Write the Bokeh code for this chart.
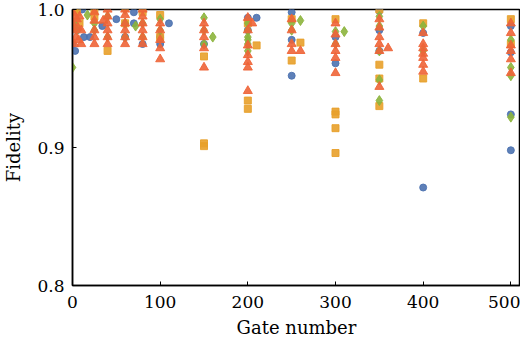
from bokeh.plotting import figure
from bokeh.models import FixedTicker, Range1d, NumeralTickFormatter
from bokeh.embed import file_html
from bokeh.resources import INLINE

# Blue circles
blue_x = [0, 3, 5, 11, 13, 20, 34, 50, 60, 70, 70, 80, 100, 100, 110, 150, 200, 200, 210,
          250, 250, 250, 300, 300, 350, 350, 350, 400, 400, 500, 500, 500, 500]
blue_y = [0.975, 0.970, 0.985, 1.000, 0.980, 0.980, 0.988, 0.993, 0.980, 0.998, 0.990, 0.975,
          0.980, 0.975, 0.990, 0.975, 0.994, 0.985, 0.994, 0.998, 0.978, 0.952, 0.961, 0.980,
          0.999, 0.985, 0.970, 0.983, 0.871, 0.988, 0.969, 0.924, 0.898]

# Orange squares
orange_x = [2, 5, 8, 25, 25, 40, 60, 80, 100, 100, 150, 150, 150, 200, 200, 200, 210,
            250, 250, 260, 300, 300, 300, 300, 300, 350, 350, 350, 350, 400, 400, 500, 500]
orange_y = [1.000, 0.998, 0.990, 1.000, 0.995, 0.970, 0.990, 0.998, 0.996, 0.980, 0.966, 0.903,
            0.901, 0.990, 0.934, 0.928, 0.974, 0.993, 0.963, 0.976, 0.993, 0.926, 0.924, 0.914,
            0.896, 1.000, 0.960, 0.950, 0.930, 0.990, 0.950, 0.993, 0.975]

# Green diamonds
green_x = [0, 2, 5, 17, 25, 25, 40, 40, 60, 60, 60, 72, 80, 80, 100, 100, 150, 150, 150, 160,
           200, 200, 200, 200, 200, 200, 250, 250, 260, 300, 300, 310, 350, 350, 350, 350, 350,
           400, 400, 500, 500, 500, 500]
green_y = [0.958, 0.990, 0.985, 0.996, 0.990, 0.985, 0.995, 0.980, 1.000, 0.990, 0.980, 0.988,
           0.990, 0.980, 0.993, 0.985, 0.994, 0.985, 0.975, 0.980, 0.990, 0.985, 0.980, 0.978,
           0.975, 0.970, 0.990, 0.985, 0.992, 0.984, 0.975, 0.984, 0.995, 0.988, 0.970, 0.949,
           0.934, 0.988, 0.970, 0.978, 0.958, 0.952, 0.922]

# Red triangles
red_x = [0, 0, 1, 2, 3, 4, 5, 6, 7, 8, 10, 10,
         25, 25, 25, 25, 25, 35, 40, 40, 40, 40, 40, 40,
         60, 60, 60, 60, 60, 60, 80, 80, 80, 80, 80, 80,
         100, 100, 100, 100, 100, 150, 150, 150, 150, 150,
         200, 200, 200, 200, 200, 200, 200, 205,
         250, 250, 250, 250, 260,
         300, 300, 300, 300, 300, 300,
         350, 350, 350, 350, 350, 350, 360,
         400, 400, 400, 400, 400, 400, 400,
         500, 500, 500, 500, 500, 500]
red_y = [0.998, 0.990, 0.985, 0.975, 0.995, 0.980, 0.993, 0.987, 0.978, 0.995, 0.985, 0.975,
         0.998, 0.992, 0.985, 0.980, 0.975, 0.992, 1.000, 0.995, 0.990, 0.985, 0.980, 0.975,
         1.000, 0.996, 0.990, 0.985, 0.980, 0.975, 1.000, 0.995, 0.990, 0.985, 0.980, 0.975,
         0.990, 0.985, 0.978, 0.972, 0.964, 0.990, 0.985, 0.980, 0.972, 0.958,
         0.994, 0.985, 0.974, 0.967, 0.962, 0.958, 0.941, 0.990,
         0.993, 0.985, 0.975, 0.970, 0.970,
         0.990, 0.982, 0.975, 0.970, 0.965, 0.954,
         0.993, 0.987, 0.980, 0.975, 0.970, 0.944, 0.972,
         0.983, 0.975, 0.972, 0.968, 0.965, 0.960, 0.955,
         0.990, 0.983, 0.974, 0.970, 0.964, 0.954]

x_ticks = [0, 100, 200, 300, 400, 500]
y_ticks = [0.8, 0.9, 1.0]

FONT = "DejaVu Serif"

p = figure(width=520, height=340, output_backend="svg", toolbar_location=None,
           x_range=Range1d(0, 511), y_range=Range1d(0.8, 1.0),
           min_border_left=70, min_border_right=0, min_border_top=9, min_border_bottom=10)

p.scatter(blue_x, blue_y, marker="circle", size=7, color="#4C72B0", alpha=0.9)
p.scatter(orange_x, orange_y, marker="square", size=7, color="#E8A02A", alpha=0.9)
p.scatter(green_x, green_y, marker="diamond", size=10, color="#8CB43C", alpha=0.9)
p.scatter(red_x, red_y, marker="triangle", size=9, color="#EE6437", alpha=0.9)

p.xgrid.visible = False
p.ygrid.visible = False
p.outline_line_color = "black"
p.outline_line_width = 1.5
p.background_fill_color = "white"
p.border_fill_color = "white"

for ax in (p.xaxis[0], p.yaxis[0]):
    ax.major_tick_in = 4
    ax.major_tick_out = 0
    ax.minor_tick_in = 0
    ax.minor_tick_out = 0
    ax.axis_line_width = 1.5
    ax.axis_line_color = "black"
    ax.major_tick_line_color = "black"
    ax.major_label_text_font = FONT
    ax.major_label_text_font_size = "17px"
    ax.major_label_text_color = "black"
    ax.axis_label_text_font = FONT
    ax.axis_label_text_font_size = "18px"
    ax.axis_label_text_font_style = "normal"
    ax.axis_label_text_color = "black"

p.xaxis.ticker = FixedTicker(ticks=x_ticks)
p.yaxis.ticker = FixedTicker(ticks=y_ticks)
p.yaxis.formatter = NumeralTickFormatter(format="0.0")
p.xaxis.axis_label = "Gate number"
p.yaxis.axis_label = "Fidelity"
p.xaxis.major_label_standoff = 10
p.yaxis.major_label_standoff = 8
p.xaxis.axis_label_standoff = 6
p.yaxis.axis_label_standoff = 10

open("out.html", "w").write(file_html(p, INLINE))
